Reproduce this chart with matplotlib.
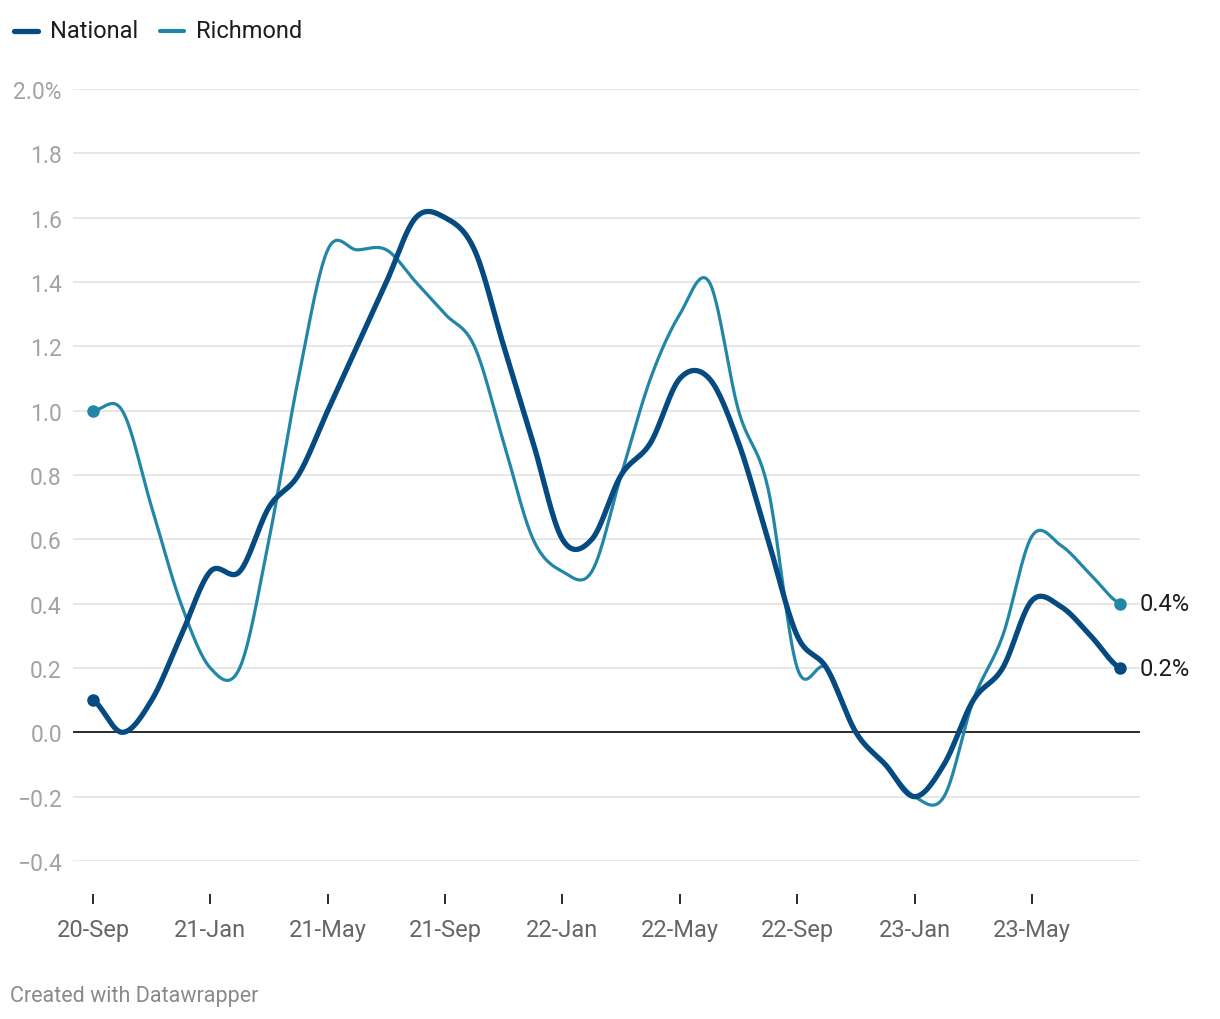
import numpy as np
import matplotlib.pyplot as plt
from matplotlib.lines import Line2D

plt.rcParams['font.family'] = ['Roboto', 'DejaVu Sans']

# monthly values, Sep 2020 .. Aug 2023
months = ["20-Sep", "20-Oct", "20-Nov", "20-Dec",
          "21-Jan", "21-Feb", "21-Mar", "21-Apr", "21-May", "21-Jun",
          "21-Jul", "21-Aug", "21-Sep", "21-Oct", "21-Nov", "21-Dec",
          "22-Jan", "22-Feb", "22-Mar", "22-Apr", "22-May", "22-Jun",
          "22-Jul", "22-Aug", "22-Sep", "22-Oct", "22-Nov", "22-Dec",
          "23-Jan", "23-Feb", "23-Mar", "23-Apr", "23-May", "23-Jun",
          "23-Jul", "23-Aug"]
national = [0.1, 0.0, 0.1, 0.3,
            0.5, 0.5, 0.7, 0.8, 1.0, 1.2, 1.4, 1.6, 1.6, 1.5, 1.2, 0.9,
            0.6, 0.6, 0.8, 0.9, 1.1, 1.1, 0.9, 0.6, 0.3, 0.2, 0.0, -0.1,
            -0.2, -0.1, 0.1, 0.2, 0.41, 0.39, 0.3, 0.2]
richmond = [1.0, 1.0, 0.7, 0.4,
            0.2, 0.2, 0.6, 1.1, 1.5, 1.5, 1.5, 1.4, 1.3, 1.2, 0.9, 0.6,
            0.5, 0.5, 0.8, 1.1, 1.3, 1.4, 1.0, 0.76, 0.2, 0.2, 0.0, -0.1,
            -0.2, -0.2, 0.1, 0.3, 0.61, 0.58, 0.49, 0.4]
tick_labels = ["20-Sep", "21-Jan", "21-May", "21-Sep", "22-Jan",
               "22-May", "22-Sep", "23-Jan", "23-May"]
y_ticks = [-0.4, -0.2, 0.0, 0.2, 0.4, 0.6, 0.8, 1.0, 1.2, 1.4, 1.6, 1.8, 2.0]

c_nat = "#054a80"
c_ric = "#2287a6"


# cardinal (catmull-rom) curve through the points, like the "curved" line style
def smooth(y, n=30):
    y = np.asarray(y, dtype=float)
    yp = np.concatenate([[y[0]], y, [y[-1]]])
    t = np.linspace(0, 1, n, endpoint=False)
    h00 = 2*t**3 - 3*t**2 + 1
    h10 = t**3 - 2*t**2 + t
    h01 = -2*t**3 + 3*t**2
    h11 = t**3 - t**2
    xs, ys = [], []
    for i in range(len(y) - 1):
        m0 = (yp[i+2] - yp[i]) / 2
        m1 = (yp[i+3] - yp[i+1]) / 2
        xs.append(i + t)
        ys.append(h00*y[i] + h10*m0 + h01*y[i+1] + h11*m1)
    xs.append([len(y) - 1])
    ys.append([y[-1]])
    return np.concatenate(xs), np.concatenate(ys)


x = np.arange(len(months))

fig = plt.figure(figsize=(12.2, 10.2), dpi=100)
ax = fig.add_axes([73/1220, 1 - 862/1020, (1140 - 73)/1220, (862 - 90)/1020])

for v in y_ticks:
    if v == 0:
        ax.axhline(v, color="#1a1a1a", lw=1.3, zorder=2)
    else:
        ax.axhline(v, color="#e3e3e3", lw=1.2, zorder=1)

sx, sy = smooth(richmond)
ax.plot(sx, sy, color=c_ric, lw=2.3, solid_capstyle="round", zorder=3)
sx, sy = smooth(national)
ax.plot(sx, sy, color=c_nat, lw=3.8, solid_capstyle="round", zorder=4)

ax.plot([x[0], x[-1]], [richmond[0], richmond[-1]], "o", color=c_ric, ms=8, zorder=5)
ax.plot([x[0], x[-1]], [national[0], national[-1]], "o", color=c_nat, ms=8, zorder=5)

ax.annotate(f"{richmond[-1]:.1f}%", (x[-1], richmond[-1]), xytext=(14, 0),
            textcoords="offset points", va="center", fontsize=17, color="#1d1d1d")
ax.annotate(f"{national[-1]:.1f}%", (x[-1], national[-1]), xytext=(14, 0),
            textcoords="offset points", va="center", fontsize=17, color="#1d1d1d")

ax.set_xlim(-0.68, len(months) - 1 + 0.68)
ax.set_ylim(-0.4, 2.0)

ylabels = [f"{v:.1f}".replace("-", "\u2212") for v in y_ticks]
ylabels[-1] = "2.0%"
ax.set_yticks(y_ticks)
ax.set_yticklabels(ylabels)
ax.tick_params(axis="y", length=0, pad=8, labelsize=16.5, labelcolor="#a3a3a3")

ax.set_xticks([months.index(t) for t in tick_labels])
ax.set_xticklabels(tick_labels)
ax.tick_params(axis="x", direction="in", length=7.5, width=1.3, color="#1a1a1a",
               pad=10, labelsize=17, labelcolor="#666666")

for s in ["top", "right", "left"]:
    ax.spines[s].set_visible(False)
ax.spines["bottom"].set_position(("outward", 31))
ax.spines["bottom"].set_color("none")

# legend
fig.add_artist(Line2D([14/1220, 38/1220], [1 - 32/1020]*2, color=c_nat, lw=3.8,
                      solid_capstyle="round"))
fig.text(50/1220, 1 - 32/1020, "National", fontsize=17, color="#1d1d1d", va="center")
fig.add_artist(Line2D([160/1220, 184/1220], [1 - 32/1020]*2, color=c_ric, lw=3,
                      solid_capstyle="round"))
fig.text(196/1220, 1 - 32/1020, "Richmond", fontsize=17, color="#1d1d1d", va="center")

fig.text(10/1220, 1 - 997/1020, "Created with Datawrapper", fontsize=15.5,
         color="#8a8a8a", va="center")

fig.savefig("out.png", dpi=100)
